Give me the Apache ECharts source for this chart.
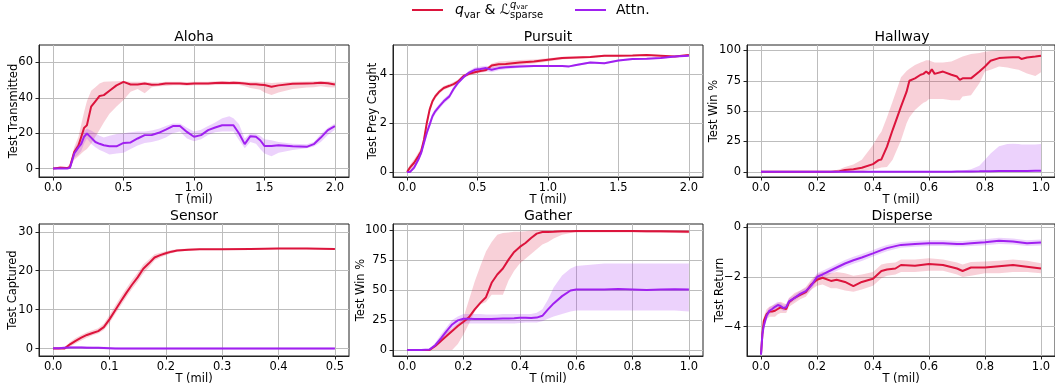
<!DOCTYPE html>
<html>
<head>
<meta charset="utf-8">
<script src="https://cdn.jsdelivr.net/npm/echarts@6/dist/echarts.min.js"></script>
<style>
  html, body { margin: 0; background: #fff; }
  #chart { width: 1055px; height: 392px; }
</style>
</head>
<body>
<div id="chart"></div>
<script>
// ---- tick labels ----
const ticksX2 = [0, 0.5, 1.0, 1.5, 2.0]
const ticksX1 = [0, 0.2, 0.4, 0.6, 0.8, 1.0]
const ticksX05 = [0, 0.1, 0.2, 0.3, 0.4, 0.5]
const alohaYTicks = [0, 20, 40, 60]
const pursuitYTicks = [0, 2, 4]
const hallwayYTicks = [0, 25, 50, 75, 100]
const sensorYTicks = [0, 10, 20, 30]
const gatherYTicks = [0, 25, 50, 75, 100]
const disperseYTicks = [-4, -2, 0]

// ---- Aloha ----
const alohaX = [0, 0.05, 0.1, 0.12, 0.15, 0.18, 0.2, 0.22, 0.24, 0.27, 0.3, 0.33, 0.36, 0.4, 0.45, 0.5, 0.55, 0.6, 0.65, 0.7, 0.75, 0.8, 0.85, 0.9, 0.95, 1.0, 1.05, 1.1, 1.15, 1.2, 1.25, 1.28, 1.32, 1.36, 1.4, 1.44, 1.47, 1.5, 1.55, 1.6, 1.7, 1.8, 1.85, 1.9, 1.95, 2.0]
const alohaRed = [0, 0.5, 0.3, 1, 9.4, 13, 18, 23, 24.5, 35, 38, 41, 41.5, 44, 47, 49, 47.5, 47.5, 48, 47.4, 47.5, 48, 48, 48.1, 47.8, 48, 48, 48, 48.3, 48.5, 48.3, 48.5, 48.3, 48, 47.7, 47.6, 47.4, 47.2, 46.2, 47, 47.9, 48.1, 48.2, 48.5, 48.2, 47.5]
const alohaRedLo = [0, 0, 0, 0, 5, 7, 8.5, 10, 11, 14, 18, 22, 26, 31, 35, 38.7, 43.4, 45, 42.5, 46, 46.5, 46.6, 47, 47, 46.8, 47, 47, 47, 47.2, 47.4, 47.2, 47.4, 47.2, 46.5, 45.5, 45, 44.5, 43, 41.5, 43, 45, 45.8, 46, 46.5, 46, 45.8]
const alohaRedHi = [0, 1.5, 0.8, 3, 12, 18, 25, 32, 38, 44, 46, 48, 49, 49.2, 49.3, 49.5, 49, 49, 49, 48.6, 48.6, 49, 49, 49.1, 48.9, 49, 49, 49, 49.3, 49.5, 49.3, 49.5, 49.3, 49, 49, 49, 48.8, 48.7, 48.3, 48.6, 49, 49.2, 49.3, 49.5, 49.3, 49]
const alohaAttn = [0, 0, 0, 0.5, 8.5, 12, 14, 18, 19.8, 17.5, 15, 14, 13.2, 12.6, 12.6, 14.5, 14.8, 17, 18.9, 19, 20.2, 22, 24, 24, 20.7, 18, 18.9, 21.7, 23.2, 24.5, 24.5, 24.5, 19.8, 13.8, 18.3, 18, 16, 12.8, 12.8, 13.2, 12.6, 12.3, 13.8, 17.5, 21.7, 24]
const alohaAttnLo = [0, 0, 0, 0, 6, 8, 10, 14, 17, 14, 12, 10.5, 9.5, 8, 8.5, 9, 11, 13, 14.5, 15, 16, 17.5, 20, 21, 17, 15.5, 16.5, 19, 20.5, 21, 21, 21, 16, 11.5, 15, 14, 11, 8.5, 7, 9, 10.5, 11.5, 12.5, 15, 19, 22]
const alohaAttnHi = [0, 0, 0.5, 1.5, 11, 15, 17.5, 21, 22.5, 21.5, 20, 18.5, 17.5, 18.5, 19.5, 20, 20.5, 21, 21, 21.5, 22.5, 24, 25.5, 25.5, 23, 21, 22, 24, 26, 28.5, 29.5, 28.5, 25, 17, 20, 19.5, 18.5, 16.5, 16, 15, 14, 13.8, 15, 19.5, 23, 25.5]

// ---- Pursuit ----
const pursuitX = [0, 0.02, 0.05, 0.08, 0.1, 0.12, 0.14, 0.16, 0.18, 0.2, 0.23, 0.26, 0.3, 0.33, 0.36, 0.4, 0.44, 0.48, 0.52, 0.56, 0.6, 0.65, 0.7, 0.8, 0.9, 1.0, 1.1, 1.15, 1.2, 1.3, 1.4, 1.5, 1.6, 1.7, 1.8, 1.9, 2.0]
const pursuitRed = [0, 0.18, 0.38, 0.65, 0.85, 1.32, 2.0, 2.54, 2.88, 3.08, 3.28, 3.42, 3.51, 3.58, 3.68, 3.9, 4.0, 4.06, 4.11, 4.15, 4.34, 4.39, 4.4, 4.46, 4.5, 4.57, 4.64, 4.65, 4.66, 4.68, 4.73, 4.73, 4.74, 4.76, 4.73, 4.7, 4.76]
const pursuitRedLo = [0, 0.05, 0.22, 0.5, 0.7, 1.15, 1.85, 2.4, 2.78, 2.98, 3.2, 3.34, 3.44, 3.5, 3.6, 3.82, 3.93, 3.98, 4.04, 4.08, 4.22, 4.28, 4.3, 4.36, 4.42, 4.5, 4.58, 4.6, 4.62, 4.64, 4.69, 4.69, 4.71, 4.73, 4.7, 4.67, 4.72]
const pursuitRedHi = [0, 0.3, 0.52, 0.8, 1.0, 1.48, 2.15, 2.68, 2.98, 3.18, 3.36, 3.5, 3.58, 3.66, 3.76, 3.98, 4.07, 4.13, 4.18, 4.22, 4.42, 4.5, 4.52, 4.56, 4.58, 4.63, 4.69, 4.7, 4.7, 4.72, 4.77, 4.77, 4.77, 4.79, 4.76, 4.73, 4.8]
const pursuitAttn = [0, 0, 0.18, 0.51, 0.78, 1.19, 1.6, 1.93, 2.27, 2.47, 2.68, 2.88, 3.08, 3.38, 3.62, 3.86, 4.05, 4.16, 4.19, 4.23, 4.16, 4.23, 4.26, 4.3, 4.32, 4.32, 4.32, 4.3, 4.36, 4.46, 4.43, 4.54, 4.6, 4.61, 4.64, 4.7, 4.73]
const pursuitAttnLo = [0, 0, 0.1, 0.42, 0.68, 1.08, 1.48, 1.8, 2.15, 2.36, 2.58, 2.78, 2.98, 3.28, 3.54, 3.8, 3.98, 4.05, 4.08, 4.1, 4.06, 4.14, 4.18, 4.24, 4.27, 4.28, 4.28, 4.26, 4.32, 4.42, 4.39, 4.5, 4.56, 4.58, 4.61, 4.67, 4.7]
const pursuitAttnHi = [0, 0.05, 0.26, 0.6, 0.88, 1.3, 1.72, 2.06, 2.39, 2.58, 2.78, 2.98, 3.18, 3.48, 3.7, 3.92, 4.12, 4.25, 4.3, 4.33, 4.27, 4.31, 4.33, 4.36, 4.37, 4.36, 4.36, 4.34, 4.4, 4.5, 4.47, 4.58, 4.64, 4.64, 4.67, 4.73, 4.76]

// ---- Hallway ----
const hallwayX = [0, 0.1, 0.2, 0.25, 0.28, 0.3, 0.33, 0.36, 0.4, 0.42, 0.43, 0.45, 0.47, 0.5, 0.52, 0.53, 0.55, 0.57, 0.58, 0.59, 0.6, 0.61, 0.62, 0.65, 0.68, 0.7, 0.71, 0.72, 0.75, 0.78, 0.8, 0.82, 0.85, 0.88, 0.9, 0.92, 0.93, 0.95, 0.98, 1.0]
const hallwayRed = [0, 0, 0, 0, 0.5, 1.4, 2, 3.3, 6.3, 9.6, 10.2, 20.7, 34.4, 53.7, 66, 75, 77, 80, 80.7, 82.6, 80.7, 84.6, 80.7, 82.6, 80, 78.5, 75.8, 77, 77, 82.6, 86.8, 91.5, 93.7, 94.2, 94.5, 94.5, 93, 94.2, 95, 95.6]
const hallwayRedLo = [0, 0, 0, 0, 0, 0, 0, 0.5, 2, 3, 3.5, 4, 10, 26, 40, 45, 51, 55, 57, 58, 60, 60, 60, 60, 59, 59, 59, 62, 63, 73, 82.6, 84, 86.8, 86, 85, 84, 83, 81, 79, 82]
const hallwayRedHi = [0, 0, 0, 0.3, 2, 4, 6, 10, 22, 30, 33, 45, 58, 78, 83, 85, 88, 90, 91, 92, 92, 91, 90, 90, 91, 93, 94, 95, 97, 98, 99, 99.5, 100, 100, 100, 100, 100, 100, 100, 100]
const hallwayAttn = [0, 0, 0, 0, 0, 0, 0, 0, 0, 0, 0, 0, 0, 0, 0, 0, 0, 0, 0, 0, 0, 0, 0, 0, 0, 0.2, 0.2, 0.2, 0.3, 0.4, 0.5, 0.5, 0.6, 0.6, 0.7, 0.7, 0.7, 0.7, 0.8, 0.8]
const hallwayAttnLo = [0, 0, 0, 0, 0, 0, 0, 0, 0, 0, 0, 0, 0, 0, 0, 0, 0, 0, 0, 0, 0, 0, 0, 0, 0, 0, 0, 0, 0, 0, 0, 0, 0, 0, 0, 0, 0, 0, 0, 0]
const hallwayAttnHi = [0, 0, 0, 0, 0, 0, 0, 0, 0, 0, 0, 0, 0, 0, 0, 0, 0, 0, 0, 0, 0, 0, 0, 0, 0, 0.3, 0.5, 0.8, 2, 5, 10, 15, 21, 23, 23.2, 22.8, 22.5, 22.5, 22.5, 23]

// ---- Sensor ----
const sensorX = [0, 0.01, 0.02, 0.03, 0.04, 0.05, 0.06, 0.07, 0.08, 0.09, 0.1, 0.11, 0.12, 0.13, 0.14, 0.15, 0.16, 0.17, 0.18, 0.19, 0.2, 0.21, 0.22, 0.24, 0.26, 0.3, 0.35, 0.4, 0.45, 0.5]
const sensorRed = [0, 0, 0, 1.1, 2, 2.8, 3.5, 4, 4.5, 5.5, 7.5, 9.8, 12.1, 14.3, 16.4, 18.3, 20.5, 21.9, 23.4, 24, 24.5, 24.9, 25.2, 25.4, 25.5, 25.5, 25.6, 25.7, 25.7, 25.6]
const sensorRedLo = [0, 0, 0, 0.5, 1.3, 2.1, 2.8, 3.4, 3.9, 4.8, 6.5, 8.8, 11, 13.2, 15.3, 17.2, 19.3, 20.9, 22.6, 23.4, 24, 24.5, 24.9, 25.1, 25.3, 25.3, 25.4, 25.5, 25.5, 25.4]
const sensorRedHi = [0, 0.1, 0.2, 1.7, 2.7, 3.5, 4.2, 4.7, 5.2, 6.4, 8.6, 11, 13.3, 15.5, 17.6, 19.5, 21.6, 22.9, 24.2, 24.6, 25, 25.3, 25.5, 25.7, 25.7, 25.7, 25.8, 25.9, 25.9, 25.8]
const sensorAttn = [0.1, 0.1, 0.2, 0.3, 0.3, 0.3, 0.25, 0.2, 0.2, 0.15, 0.1, 0.05, 0, 0, 0, 0, 0, 0, 0, 0, 0, 0, 0, 0, 0, 0, 0, 0, 0, 0]
const sensorAttnLo = [-0.2, -0.2, -0.1, 0, 0, 0, -0.05, -0.1, -0.1, -0.15, -0.2, -0.25, -0.3, -0.3, -0.3, -0.3, -0.3, -0.3, -0.3, -0.3, -0.3, -0.3, -0.3, -0.3, -0.3, -0.3, -0.3, -0.3, -0.3, -0.3]
const sensorAttnHi = [0.4, 0.4, 0.5, 0.7, 0.7, 0.7, 0.6, 0.5, 0.5, 0.45, 0.4, 0.35, 0.3, 0.3, 0.3, 0.3, 0.3, 0.3, 0.3, 0.3, 0.3, 0.3, 0.3, 0.3, 0.3, 0.3, 0.3, 0.3, 0.3, 0.3]

// ---- Gather ----
const gatherX = [0, 0.05, 0.08, 0.1, 0.12, 0.14, 0.16, 0.18, 0.2, 0.22, 0.24, 0.26, 0.28, 0.3, 0.32, 0.34, 0.36, 0.38, 0.4, 0.42, 0.44, 0.46, 0.48, 0.5, 0.52, 0.55, 0.58, 0.6, 0.65, 0.7, 0.75, 0.8, 0.85, 0.9, 0.95, 1.0]
const gatherRed = [0, 0, 0, 3.3, 7.5, 11.6, 15.8, 20, 23.5, 27.4, 33.8, 39.3, 44, 56, 62.9, 67.9, 75.3, 81.7, 85.9, 89.2, 93.4, 97, 98.3, 98.3, 98.5, 98.9, 99, 99.2, 99.2, 99.2, 99.2, 99.2, 99, 98.9, 98.8, 98.6]
const gatherRedLo = [0, 0, 0, 0, 0, 0, 0, 5, 13, 22, 32, 38, 40, 46, 46, 46, 58, 66, 72, 76, 80, 84, 88, 90, 93, 96, 97.5, 98, 98, 98, 98, 98, 97.8, 97.5, 97.5, 97.3]
const gatherRedHi = [0, 0, 0.5, 5, 10, 15, 18, 22, 27, 42, 57, 70, 82, 90, 96, 97.5, 98, 98.5, 98.5, 99, 99.5, 100, 100, 100, 100, 100, 100, 100, 100, 100, 100, 100, 100, 100, 100, 100]
const gatherAttn = [0, 0, 0.5, 4, 9.7, 15.8, 21.3, 24.7, 26, 26, 25.9, 25.8, 25.8, 25.8, 26, 26.2, 26.3, 26.5, 26.9, 26.8, 26.6, 27, 28.5, 33.8, 38.8, 44.9, 49.6, 50.4, 50.4, 50.4, 50.9, 50.4, 49.9, 50.4, 50.7, 50.4]
const gatherAttnLo = [0, 0, 0, 2, 6, 12, 18, 21, 22, 22, 22, 22, 22, 22, 22, 22, 22, 22, 22.5, 23, 23, 23, 24, 26, 28, 30, 32, 33, 33, 33, 33, 33, 33, 33, 33, 32]
const gatherAttnHi = [0, 0, 1, 6, 13, 19, 25, 28, 30, 30, 30, 30, 29.5, 29.5, 29.5, 30, 30, 30, 30, 30, 30, 31, 34, 42, 52, 62, 68, 70, 71, 72, 72, 72, 72, 72, 72, 72]

// ---- Disperse ----
const disperseX = [0, 0.005, 0.01, 0.02, 0.03, 0.04, 0.05, 0.06, 0.07, 0.08, 0.09, 0.1, 0.12, 0.14, 0.16, 0.18, 0.2, 0.22, 0.25, 0.27, 0.3, 0.33, 0.36, 0.4, 0.43, 0.45, 0.48, 0.5, 0.55, 0.6, 0.65, 0.7, 0.72, 0.75, 0.8, 0.85, 0.9, 0.95, 1.0]
const disperseRed = [-5.1, -4.3, -3.77, -3.5, -3.39, -3.39, -3.36, -3.29, -3.22, -3.26, -3.29, -3.02, -2.84, -2.72, -2.61, -2.3, -2.11, -2.03, -2.16, -2.11, -2.2, -2.37, -2.2, -2.07, -1.76, -1.7, -1.66, -1.52, -1.55, -1.48, -1.52, -1.66, -1.76, -1.62, -1.62, -1.57, -1.52, -1.59, -1.66]
const disperseRedLo = [-5.2, -4.5, -3.95, -3.7, -3.6, -3.6, -3.6, -3.5, -3.45, -3.45, -3.45, -3.2, -3.05, -2.9, -2.8, -2.5, -2.35, -2.3, -2.45, -2.45, -2.55, -2.6, -2.5, -2.35, -2.05, -1.95, -1.9, -1.8, -1.8, -1.75, -1.75, -1.9, -2.0, -1.95, -1.85, -1.85, -1.8, -1.8, -1.85]
const disperseRedHi = [-5.0, -4.1, -3.6, -3.3, -3.2, -3.15, -3.1, -3.05, -3.0, -3.05, -3.1, -2.85, -2.65, -2.55, -2.4, -2.1, -1.9, -1.8, -1.85, -1.8, -1.85, -1.95, -1.9, -1.8, -1.5, -1.45, -1.42, -1.3, -1.3, -1.25, -1.3, -1.42, -1.5, -1.4, -1.38, -1.35, -1.3, -1.35, -1.45]
const disperseAttn = [-5.13, -4.3, -3.97, -3.56, -3.36, -3.29, -3.2, -3.13, -3.17, -3.25, -3.22, -2.98, -2.84, -2.68, -2.57, -2.34, -2.0, -1.9, -1.73, -1.62, -1.46, -1.33, -1.22, -1.05, -0.92, -0.84, -0.76, -0.71, -0.67, -0.64, -0.64, -0.67, -0.67, -0.64, -0.6, -0.54, -0.57, -0.64, -0.61]
const disperseAttnLo = [-5.2, -4.45, -4.1, -3.7, -3.5, -3.42, -3.33, -3.26, -3.3, -3.37, -3.35, -3.1, -2.96, -2.8, -2.7, -2.5, -2.15, -2.05, -1.87, -1.76, -1.6, -1.47, -1.36, -1.18, -1.05, -0.97, -0.88, -0.83, -0.79, -0.76, -0.76, -0.78, -0.78, -0.76, -0.72, -0.67, -0.69, -0.75, -0.73]
const disperseAttnHi = [-5.05, -4.15, -3.85, -3.42, -3.22, -3.16, -3.07, -3.0, -3.04, -3.12, -3.09, -2.86, -2.72, -2.56, -2.44, -2.18, -1.85, -1.75, -1.59, -1.48, -1.32, -1.19, -1.08, -0.92, -0.79, -0.71, -0.64, -0.59, -0.55, -0.52, -0.52, -0.55, -0.55, -0.52, -0.48, -0.42, -0.45, -0.52, -0.49]

const RED = '#dc143c'
const PURPLE = '#a020f0'
const RED_BAND = 'rgba(220,20,60,0.2)'
const PURPLE_BAND = 'rgba(160,32,240,0.2)'
const FONT = 'DejaVu Sans'
const NAME_Q = 'qvar'
const NAME_A = 'Attn.'

// panel layout (pixels) and what goes in each one
const panels = [
    { title: 'Aloha', yName: 'Test Transmitted', left: 39, top: 45, nameGap: 19,
      xMin: -0.1, xMax: 2.1, xTicks: ticksX2, yMin: -4.75, yMax: 69.8, yTicks: alohaYTicks,
      x: alohaX, red: alohaRed, redLo: alohaRedLo, redHi: alohaRedHi, attn: alohaAttn, attnLo: alohaAttnLo, attnHi: alohaAttnHi },
    { title: 'Pursuit', yName: 'Test Prey Caught', left: 393, top: 45, nameGap: 14,
      xMin: -0.1, xMax: 2.1, xTicks: ticksX2, yMin: -0.2, yMax: 5.17, yTicks: pursuitYTicks,
      x: pursuitX, red: pursuitRed, redLo: pursuitRedLo, redHi: pursuitRedHi, attn: pursuitAttn, attnLo: pursuitAttnLo, attnHi: pursuitAttnHi },
    { title: 'Hallway', yName: 'Test Win %', left: 747, top: 45, nameGap: 27,
      xMin: -0.05, xMax: 1.05, xTicks: ticksX1, yMin: -4.3, yMax: 104.5, yTicks: hallwayYTicks,
      x: hallwayX, red: hallwayRed, redLo: hallwayRedLo, redHi: hallwayRedHi, attn: hallwayAttn, attnLo: hallwayAttnLo, attnHi: hallwayAttnHi },
    { title: 'Sensor', yName: 'Test Captured', left: 39, top: 224, nameGap: 20,
      xMin: -0.025, xMax: 0.525, xTicks: ticksX05, yMin: -1.9, yMax: 32, yTicks: sensorYTicks,
      x: sensorX, red: sensorRed, redLo: sensorRedLo, redHi: sensorRedHi, attn: sensorAttn, attnLo: sensorAttnLo, attnHi: sensorAttnHi },
    { title: 'Gather', yName: 'Test Win %', left: 393, top: 224, nameGap: 26,
      xMin: -0.05, xMax: 1.05, xTicks: ticksX1, yMin: -5, yMax: 105, yTicks: gatherYTicks,
      x: gatherX, red: gatherRed, redLo: gatherRedLo, redHi: gatherRedHi, attn: gatherAttn, attnLo: gatherAttnLo, attnHi: gatherAttnHi },
    { title: 'Disperse', yName: 'Test Return', left: 747, top: 224, nameGap: 21,
      xMin: -0.05, xMax: 1.05, xTicks: ticksX1, yMin: -5.18, yMax: 0.13, yTicks: disperseYTicks,
      x: disperseX, red: disperseRed, redLo: disperseRedLo, redHi: disperseRedHi, attn: disperseAttn, attnLo: disperseAttnLo, attnHi: disperseAttnHi }
]

const PW = 310
const PH = 132

// shaded band between lo and hi, drawn as one polygon through the axis scales
function band(i, xs, lo, hi, fill) {
    const pts = xs.map((x, k) => [x, hi[k]]).concat(xs.map((x, k) => [x, lo[k]]).reverse())
    return {
        type: 'custom',
        xAxisIndex: i,
        yAxisIndex: i,
        silent: true,
        z: 1,
        encode: { x: 0, y: 1 },
        data: pts,
        renderItem: (params, api) => {
            if (params.dataIndex !== 0) return null
            return {
                type: 'polygon',
                shape: { points: pts.map(p => api.coord(p)) },
                style: { fill: fill, stroke: null }
            }
        }
    }
}

function line(i, name, xs, ys, color) {
    return {
        type: 'line',
        name: name,
        xAxisIndex: i,
        yAxisIndex: i,
        data: xs.map((x, k) => [x, ys[k]]),
        symbol: 'none',
        z: 3,
        color: color,
        lineStyle: { width: 2, color: color },
        itemStyle: { color: color }
    }
}

const fmtX = v => v.toFixed(1)
const fmtY = v => (v < 0 ? '\u2212' + (-v) : String(v))

const labelStyle = { fontFamily: FONT, fontSize: 11.5, color: '#000' }

let myChart = echarts.init(document.getElementById('chart'))
const options = {
    animation: false,
    backgroundColor: '#fff',
    title: panels.map(p => ({
        text: p.title,
        left: p.left + PW / 2,
        top: p.top - 15,
        padding: 0,
        textAlign: 'center',
        textStyle: { fontFamily: FONT, fontSize: 14, fontWeight: 'normal', color: '#000' }
    })),
    legend: [
        {
            data: [NAME_Q],
            left: 412, top: 0, padding: 0,
            icon: 'rect', itemWidth: 31, itemHeight: 2,
            formatter: () => '{it|q}{sub|var} & {cal|\u2112}{sp|sparse}{sup|q}{supsub|var}',
            textStyle: {
                fontFamily: FONT, fontSize: 14, color: '#000', padding: [0, 0, 0, 7],
                rich: {
                    it: { fontFamily: FONT, fontSize: 14, fontStyle: 'italic', lineHeight: 20 },
                    sub: { fontFamily: FONT, fontSize: 10, lineHeight: 10, verticalAlign: 'bottom' },
                    cal: { fontFamily: FONT, fontSize: 14, lineHeight: 20 },
                    sp: { fontFamily: FONT, fontSize: 10, lineHeight: 10, verticalAlign: 'bottom', width: 0 },
                    sup: { fontFamily: FONT, fontSize: 10, fontStyle: 'italic', lineHeight: 10, verticalAlign: 'top' },
                    supsub: { fontFamily: FONT, fontSize: 7, lineHeight: 10, verticalAlign: 'top', padding: [4, 0, 0, 0] }
                }
            }
        },
        {
            data: [NAME_A],
            left: 575, top: 0, padding: 0,
            icon: 'rect', itemWidth: 31, itemHeight: 2,
            textStyle: { fontFamily: FONT, fontSize: 14, color: '#000', lineHeight: 20, padding: [0, 0, 0, 5] }
        }
    ],
    grid: panels.map(p => ({
        left: p.left, top: p.top, width: PW, height: PH,
        show: true, borderColor: '#222', borderWidth: 1
    })),
    xAxis: panels.map((p, i) => ({
        gridIndex: i,
        type: 'value',
        min: p.xMin,
        max: p.xMax,
        name: 'T (mil)',
        nameLocation: 'middle',
        nameGap: 17,
        nameMoveOverlap: false,
        nameTextStyle: labelStyle,
        axisLine: { onZero: false, lineStyle: { color: '#222', width: 1 } },
        axisTick: { show: true, length: 3.5, customValues: p.xTicks, lineStyle: { color: '#222' } },
        axisLabel: Object.assign({ customValues: p.xTicks, formatter: fmtX, margin: 5 }, labelStyle),
        splitLine: { show: true, lineStyle: { color: '#bdbdbd', width: 1 } }
    })),
    yAxis: panels.map((p, i) => ({
        gridIndex: i,
        type: 'value',
        min: p.yMin,
        max: p.yMax,
        name: p.yName,
        nameLocation: 'middle',
        nameGap: p.nameGap,
        nameMoveOverlap: false,
        nameTextStyle: labelStyle,
        axisLine: { onZero: false, lineStyle: { color: '#222', width: 1 } },
        axisTick: { show: true, length: 3.5, customValues: p.yTicks, lineStyle: { color: '#222' } },
        axisLabel: Object.assign({ customValues: p.yTicks, formatter: fmtY, margin: 6 }, labelStyle),
        splitLine: { show: true, lineStyle: { color: '#bdbdbd', width: 1 } }
    })),
    series: panels.flatMap((p, i) => [
        band(i, p.x, p.redLo, p.redHi, RED_BAND),
        band(i, p.x, p.attnLo, p.attnHi, PURPLE_BAND),
        line(i, NAME_Q, p.x, p.red, RED),
        line(i, NAME_A, p.x, p.attn, PURPLE)
    ])
}
myChart.setOption(options)
</script>
</body>
</html>
